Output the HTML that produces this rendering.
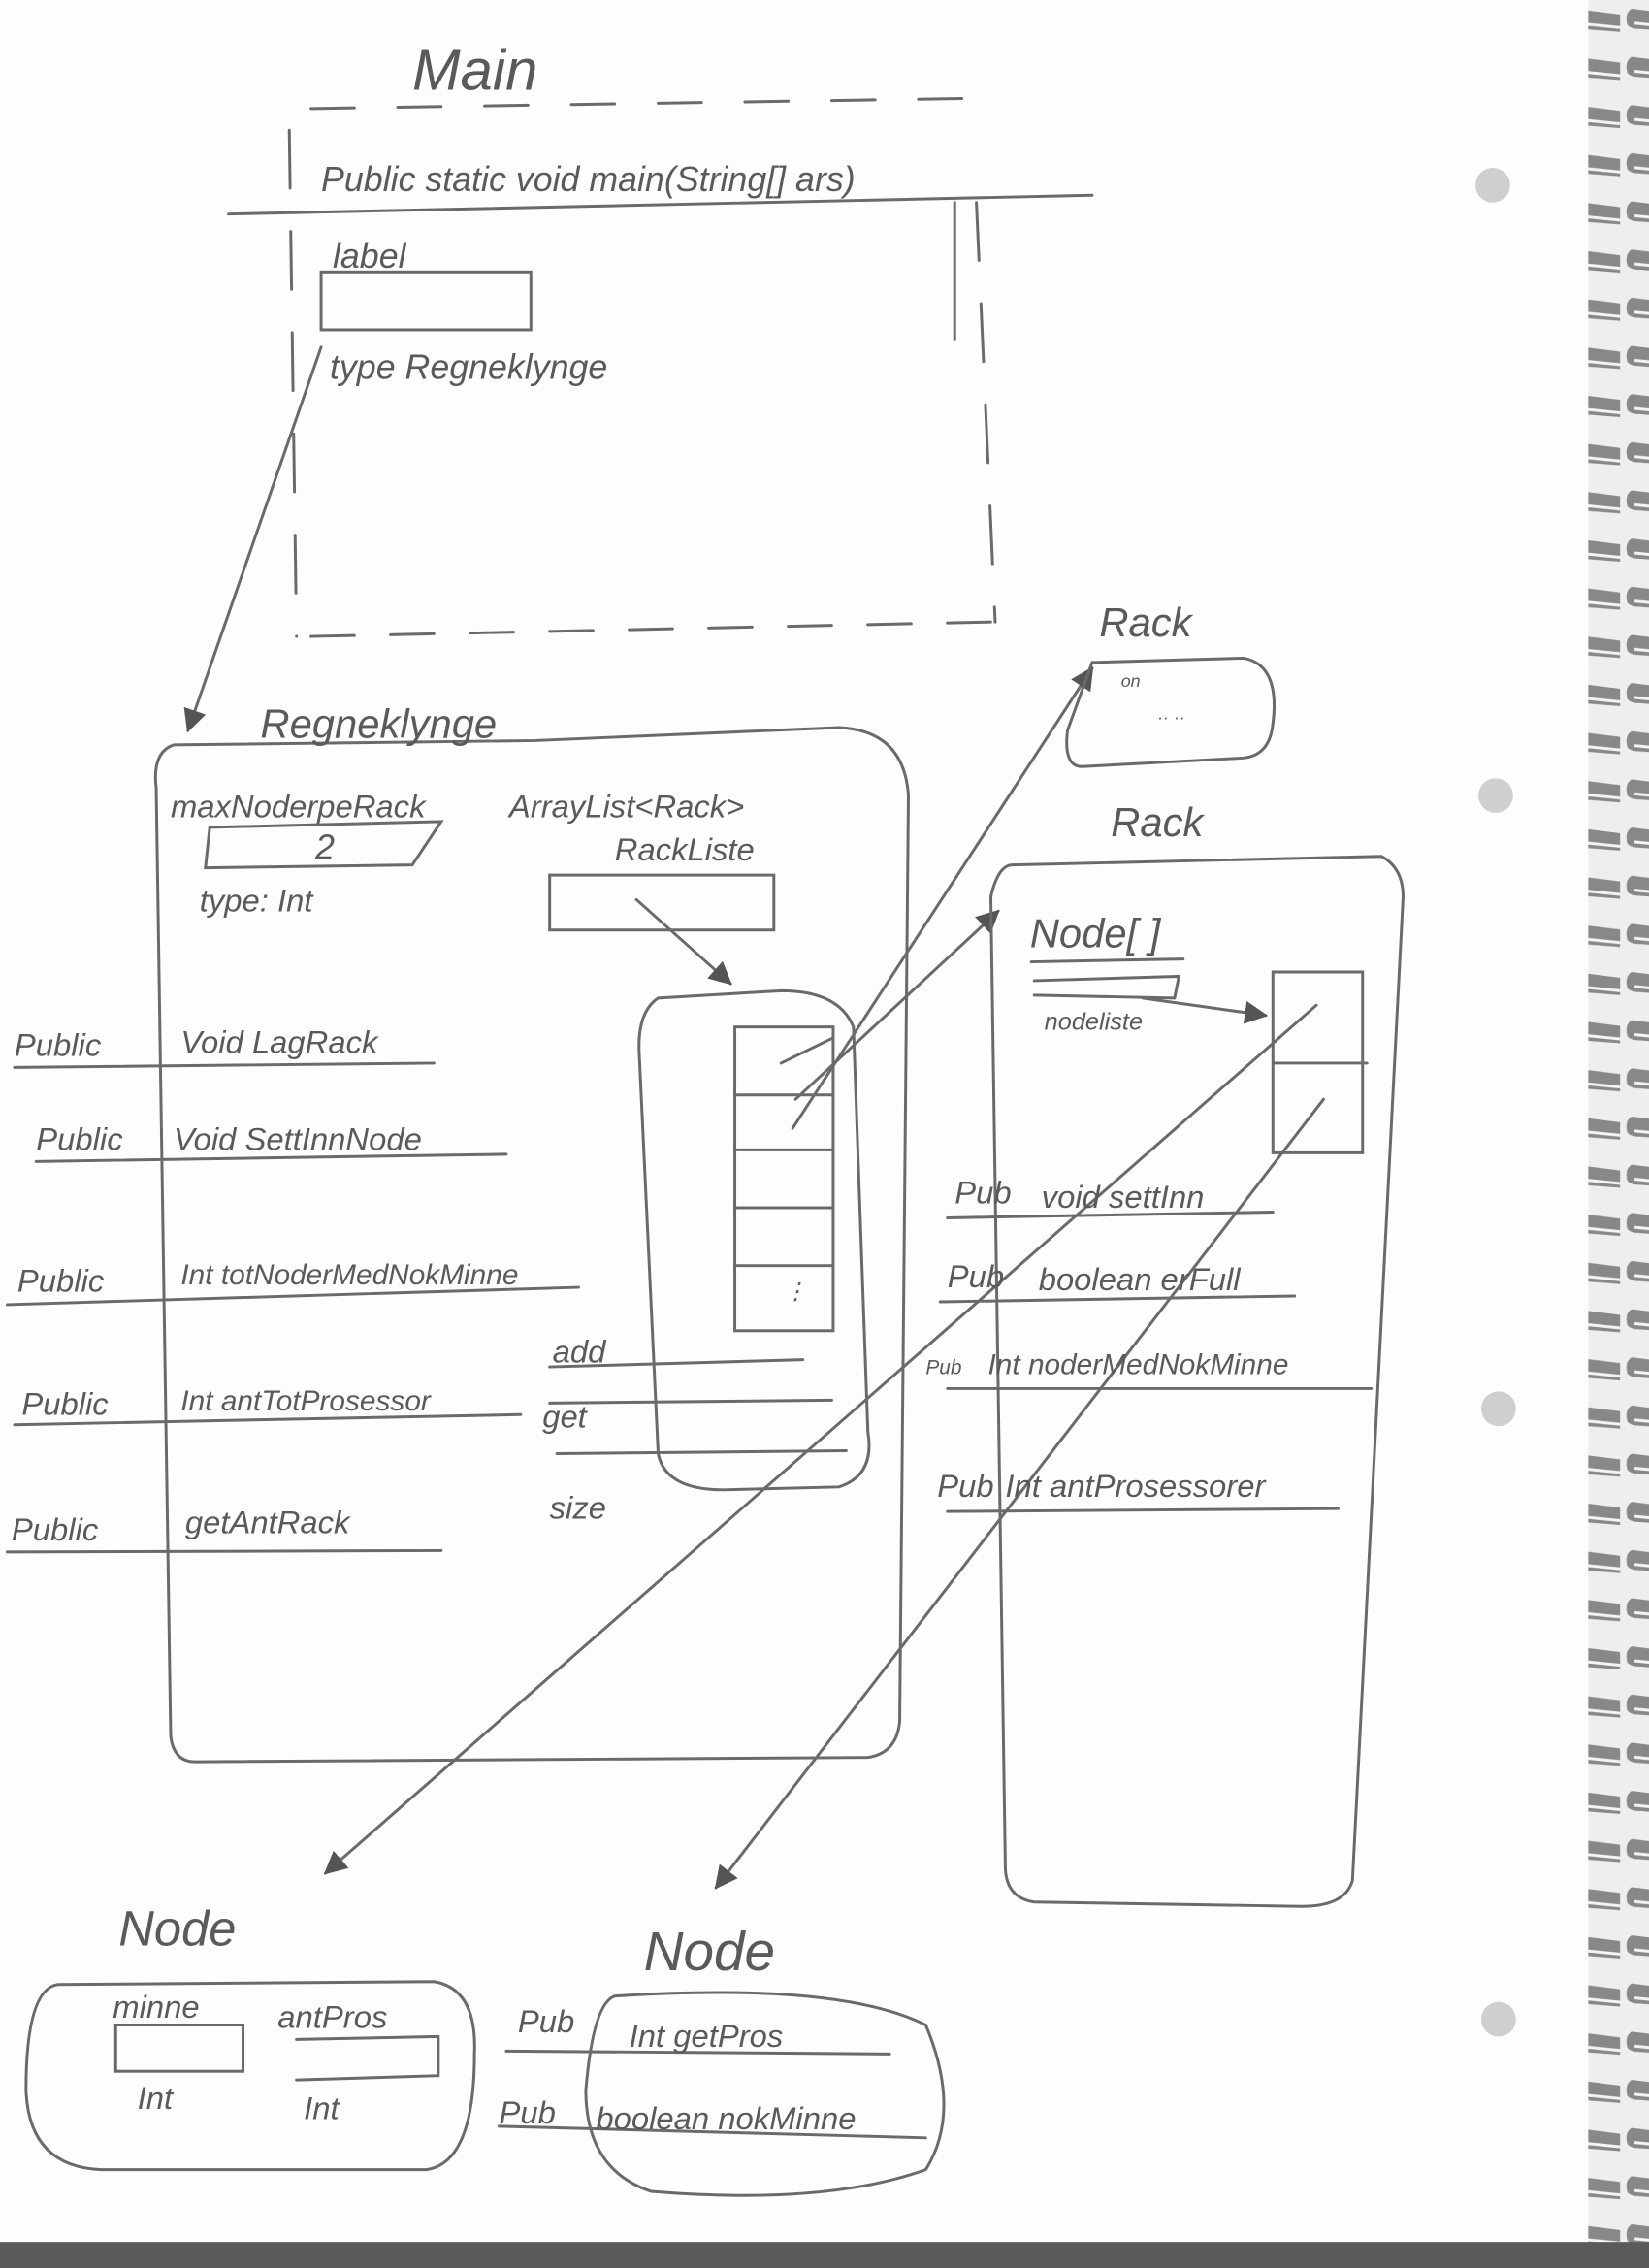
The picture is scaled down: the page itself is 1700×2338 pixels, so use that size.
<!DOCTYPE html>
<html><head><meta charset="utf-8"><style>
html,body{margin:0;padding:0;background:#fff}
svg{display:block}
text{font-family:"Liberation Sans",sans-serif;fill:#5a5a5a;font-style:italic}
</style></head><body>
<svg width="1700" height="2338" viewBox="0 0 1140 1568" preserveAspectRatio="none" xmlns="http://www.w3.org/2000/svg">
<defs>
<pattern id="ring" x="0" y="0" width="40" height="33.3" patternUnits="userSpaceOnUse">
<rect x="0" y="0" width="40" height="33.3" fill="#eeeeee"/>
<path d="M8 6 Q3 9 5 17 Q7 20 14 20 L40 22 L40 10 Z" fill="#888"/>
<path d="M10 16 L40 19" stroke="#f4f4f4" stroke-width="2"/>
</pattern>
<marker id="ah" viewBox="0 0 10 10" refX="9" refY="5" markerWidth="8" markerHeight="8" orient="auto-start-reverse"><path d="M0 0 L10 5 L0 10 z" fill="#555"/></marker>
</defs>
<rect width="1140" height="1568" fill="#fdfdfd"/>
<rect x="1098" y="0" width="42" height="1568" fill="url(#ring)"/>
<rect x="0" y="1550" width="1140" height="18" fill="#5a5a5a"/>
<g fill="#cfcfcf"><circle cx="1032" cy="128" r="12"/><circle cx="1034" cy="550" r="12"/><circle cx="1036" cy="974" r="12"/><circle cx="1036" cy="1396" r="12"/></g>

<g fill="none" stroke="#6a6a6a" stroke-width="2" stroke-linecap="round">
<path d="M215 75 L670 68" stroke-dasharray="30,30"/>
<path d="M158 148 L755 135"/>
<path d="M200 90 L205 440" stroke-dasharray="40,30"/>
<path d="M660 140 L660 235"/><path d="M675 140 L688 430" stroke-dasharray="40,30"/>
<path d="M215 440 L685 430" stroke-dasharray="30,25"/>
<rect x="222" y="188" width="145" height="40"/>
<path d="M222 240 L130 505" marker-end="url(#ah)"/>
<path d="M120 515 Q105 520 108 545 L118 1200 Q120 1218 135 1218 L600 1215 Q620 1212 622 1190 L628 550 Q625 505 580 503 L370 512 L120 515"/>
<path d="M145 572 L305 568 L285 598 L142 600 Z"/>
<rect x="380" y="605" width="155" height="38"/>
<path d="M440 622 L505 680" marker-end="url(#ah)"/>
<path d="M455 690 Q440 700 442 730 L455 1005 Q460 1030 500 1030 L580 1028 Q605 1020 600 990 L590 710 Q580 685 540 685 Z"/>
<rect x="508" y="710" width="68" height="210"/>
<path d="M508 757 L576 757 M508 795 L576 795 M508 835 L576 835 M508 875 L576 875"/>
<path d="M380 945 L555 940 M380 970 L575 968 M385 1005 L585 1003"/>
<path d="M10 738 L300 735 M25 803 L350 798 M5 902 L400 890 M10 985 L360 978 M5 1073 L305 1072"/>
<path d="M540 735 L575 718 M548 780 L755 462" marker-end="url(#ah)"/>
<path d="M550 760 L690 630" marker-end="url(#ah)"/>
<path d="M755 458 L860 455 Q885 460 880 500 Q878 522 860 524 L748 530 Q735 530 738 505 Z"/>
<path d="M700 598 L955 592 Q970 600 970 620 L935 1300 Q930 1318 900 1318 L715 1315 Q695 1312 695 1290 L685 620 Q690 598 700 598"/>
<path d="M713 665 L818 663 M715 678 L815 675 L812 690 L715 688"/>
<path d="M790 690 L875 702" marker-end="url(#ah)"/>
<rect x="880" y="672" width="62" height="125"/>
<path d="M880 735 L945 735"/>
<path d="M655 842 L880 838 M650 900 L895 896 M655 960 L948 960 M655 1045 L925 1043"/>
<path d="M910 695 L225 1295" marker-end="url(#ah)"/>
<path d="M915 760 L495 1305" marker-end="url(#ah)"/>
<path d="M40 1372 L300 1370 Q330 1375 328 1420 Q328 1495 295 1500 L70 1500 Q20 1498 18 1445 Q18 1375 40 1372"/>
<rect x="80" y="1400" width="88" height="32"/>
<path d="M205 1410 L303 1408 L303 1435 L205 1438"/>
<path d="M425 1380 Q580 1370 640 1400 Q665 1460 640 1500 Q570 1525 450 1515 Q405 1500 405 1445 Q410 1385 425 1380"/>
<path d="M350 1418 L615 1420 M345 1470 L640 1478"/>
</g>

<g font-size="22">
<text x="285" y="62" font-size="40">Main</text>
<text x="222" y="132" font-size="24">Public static void main(String[] ars)</text>
<text x="230" y="185" font-size="24">label</text>
<text x="228" y="262" font-size="24">type Regneklynge</text>
<text x="180" y="510" font-size="28">Regneklynge</text>
<text x="118" y="565">maxNoderpeRack</text>
<text x="352" y="565">ArrayList&lt;Rack&gt;</text>
<text x="425" y="595">RackListe</text>
<text x="218" y="594" font-size="24">2</text>
<text x="138" y="630">type: Int</text>
<text x="10" y="730">Public</text><text x="125" y="728">Void LagRack</text>
<text x="25" y="795">Public</text><text x="120" y="795">Void SettInnNode</text>
<text x="12" y="893">Public</text><text x="125" y="888" font-size="20">Int totNoderMedNokMinne</text>
<text x="15" y="978">Public</text><text x="125" y="975" font-size="20">Int antTotProsessor</text>
<text x="8" y="1065">Public</text><text x="128" y="1060">getAntRack</text>
<text x="382" y="942">add</text><text x="375" y="987">get</text><text x="380" y="1050">size</text>
<text x="542" y="898" font-size="16">⋮</text>
<text x="760" y="440" font-size="28">Rack</text>
<text x="775" y="475" font-size="12">on</text><text x="800" y="500" font-size="12">·· ··</text>
<text x="768" y="578" font-size="28">Rack</text>
<text x="712" y="655" font-size="28">Node[ ]</text>
<text x="722" y="712" font-size="17">nodeliste</text>
<text x="660" y="832">Pub</text><text x="720" y="835">void settInn</text>
<text x="655" y="890">Pub</text><text x="718" y="892">boolean erFull</text>
<text x="640" y="950" font-size="14">Pub</text><text x="683" y="950" font-size="20">Int noderMedNokMinne</text>
<text x="648" y="1035">Pub</text><text x="695" y="1035">Int antProsessorer</text>
<text x="82" y="1345" font-size="34">Node</text>
<text x="445" y="1362" font-size="38">Node</text>
<text x="78" y="1395">minne</text>
<text x="192" y="1402">antPros</text>
<text x="95" y="1458">Int</text><text x="210" y="1465">Int</text>
<text x="358" y="1405">Pub</text><text x="435" y="1415">Int getPros</text>
<text x="345" y="1468">Pub</text><text x="412" y="1472">boolean nokMinne</text>
</g>
</svg>
</body></html>
